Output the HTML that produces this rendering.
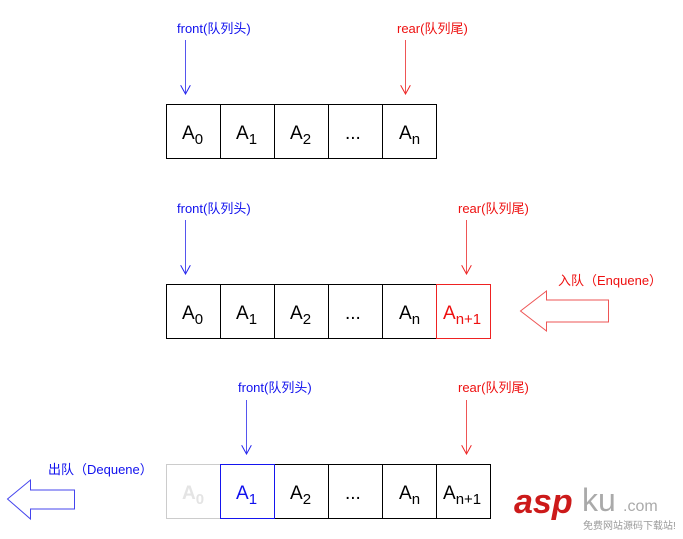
<!DOCTYPE html>
<html><head><meta charset="utf-8"><style>
body{margin:0;background:#fff;width:683px;height:534px;overflow:hidden}
</style></head><body>
<svg width="683" height="534" xmlns="http://www.w3.org/2000/svg" font-family="Liberation Sans, Noto Sans CJK SC, sans-serif">
<defs>
<marker id="ab" markerWidth="10" markerHeight="10" refX="9" refY="5" orient="auto" markerUnits="userSpaceOnUse"><path d="M0,0 L9,5 L0,10" fill="none" stroke="#2222ee" stroke-width="1"/></marker>
<marker id="ar" markerWidth="10" markerHeight="10" refX="9" refY="5" orient="auto" markerUnits="userSpaceOnUse"><path d="M0,0 L9,5 L0,10" fill="none" stroke="#ee2222" stroke-width="1"/></marker>
</defs>
<g font-size="13">
<text x="177" y="33" fill="#1010ee">front(队列头)</text>
<text x="397" y="33" fill="#ee1010">rear(队列尾)</text>
<text x="177" y="213" fill="#1010ee">front(队列头)</text>
<text x="458" y="213" fill="#ee1010">rear(队列尾)</text>
<text x="238" y="392" fill="#1010ee">front(队列头)</text>
<text x="458" y="392" fill="#ee1010">rear(队列尾)</text>
<text x="558" y="285" fill="#ee1010">入队（Enquene）</text>
<text x="48" y="474" fill="#1010ee">出队（Dequene）</text>
</g>
<g stroke-width="1">
<line x1="185.5" y1="40" x2="185.5" y2="94" stroke="#5555ee" marker-end="url(#ab)"/>
<line x1="405.5" y1="40" x2="405.5" y2="94" stroke="#ee5555" marker-end="url(#ar)"/>
<line x1="185.5" y1="220" x2="185.5" y2="274" stroke="#5555ee" marker-end="url(#ab)"/>
<line x1="466.5" y1="220" x2="466.5" y2="274" stroke="#ee5555" marker-end="url(#ar)"/>
<line x1="246.5" y1="400" x2="246.5" y2="454" stroke="#5555ee" marker-end="url(#ab)"/>
<line x1="466.5" y1="400" x2="466.5" y2="454" stroke="#ee5555" marker-end="url(#ar)"/>
</g>
<g fill="none" stroke="#000">
<rect x="166.5" y="104.5" width="270" height="54"/>
<line x1="220.5" y1="104" x2="220.5" y2="158"/><line x1="274.5" y1="104" x2="274.5" y2="158"/><line x1="328.5" y1="104" x2="328.5" y2="158"/><line x1="382.5" y1="104" x2="382.5" y2="158"/>
<rect x="166.5" y="284.5" width="270" height="54"/>
<line x1="220.5" y1="284" x2="220.5" y2="338"/><line x1="274.5" y1="284" x2="274.5" y2="338"/><line x1="328.5" y1="284" x2="328.5" y2="338"/><line x1="382.5" y1="284" x2="382.5" y2="338"/>
<rect x="436.5" y="284.5" width="54" height="54" stroke="#ee2222"/>
<rect x="166.5" y="464.5" width="54" height="54" stroke="#cccccc"/>
<rect x="274.5" y="464.5" width="216" height="54"/>
<line x1="328.5" y1="464" x2="328.5" y2="518"/><line x1="382.5" y1="464" x2="382.5" y2="518"/><line x1="436.5" y1="464" x2="436.5" y2="518"/>
<rect x="220.5" y="464.5" width="54" height="54" stroke="#1515ee"/>
</g>
<g font-size="19">
<text x="182" y="139">A<tspan font-size="15" dy="5">0</tspan></text>
<text x="236" y="139">A<tspan font-size="15" dy="5">1</tspan></text>
<text x="290" y="139">A<tspan font-size="15" dy="5">2</tspan></text>
<text x="345" y="139">...</text>
<text x="399" y="139">A<tspan font-size="15" dy="5">n</tspan></text>
<text x="182" y="319">A<tspan font-size="15" dy="5">0</tspan></text>
<text x="236" y="319">A<tspan font-size="15" dy="5">1</tspan></text>
<text x="290" y="319">A<tspan font-size="15" dy="5">2</tspan></text>
<text x="345" y="319">...</text>
<text x="399" y="319">A<tspan font-size="15" dy="5">n</tspan></text>
<text x="443" y="319" fill="#ee1010">A<tspan font-size="15" dy="5">n+1</tspan></text>
<text x="182" y="499" fill="#e4e4e4" font-weight="bold">A<tspan font-size="15" dy="5">0</tspan></text>
<text x="236" y="499" fill="#1010ee">A<tspan font-size="15" dy="5">1</tspan></text>
<text x="290" y="499">A<tspan font-size="15" dy="5">2</tspan></text>
<text x="345" y="499">...</text>
<text x="399" y="499">A<tspan font-size="15" dy="5">n</tspan></text>
<text x="443" y="499">A<tspan font-size="15" dy="5">n+1</tspan></text>
</g>
<path d="M520.5,311 L546.5,291 L546.5,300 L608.5,300 L608.5,322 L546.5,322 L546.5,331 Z" fill="#fff" stroke="#ee5555"/>
<path d="M7.5,499 L30.5,480 L30.5,490 L74.5,490 L74.5,509 L30.5,509 L30.5,519 Z" fill="#fff" stroke="#4444ee"/>
<text x="514" y="513" font-size="34" font-weight="bold" font-style="italic" fill="#cc1a1a">asp</text>
<text x="582" y="511" font-size="32" fill="#aaaaaa">ku</text>
<text x="623" y="511" font-size="16" fill="#aaaaaa">.com</text>
<text x="583" y="529" font-size="10" fill="#999">免费网站源码下载站!</text>
</svg>
</body></html>
